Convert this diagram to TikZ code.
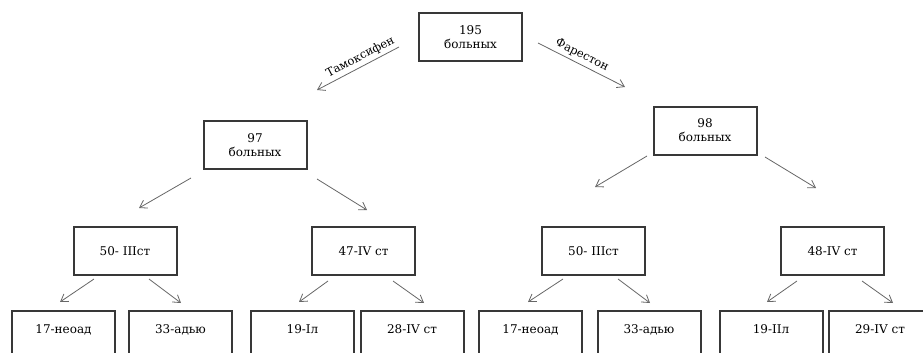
\documentclass[tikz,border=0pt]{standalone}
\usepackage{fontspec}
\setmainfont{DejaVu Serif}
\usetikzlibrary{arrows.meta}
\definecolor{boxline}{HTML}{383838}
\definecolor{arrowline}{HTML}{666666}

\begin{document}
\begin{tikzpicture}[x=1pt,y=-1pt,
  group/.style={draw=boxline,line width=2pt,minimum width=103pt,minimum height=48pt,
    align=center,font=\fontsize{12}{14}\selectfont},
  leaf/.style={draw=boxline,line width=2pt,minimum width=103pt,anchor=north,
    inner ysep=0pt,text height=22pt,text depth=26pt,font=\fontsize{12}{14}\selectfont},
  arr/.style={draw=arrowline,line width=0.8pt,-{Straight Barb[length=7pt,width=9pt]}},
  drug/.style={font=\fontsize{11.5}{13}\selectfont,sloped,above,inner sep=3pt}]
\useasboundingbox (0,0) rectangle (923,353);

% groups
\node[group] (all) at (470.5,37) {195\\больных};
\node[group] (tam) at (255,145) {97\\больных};
\node[group] (far) at (705,130.5) {98\\больных};

\node[group] (tamIII) at (125,251) {50- IIIст};
\node[group] (tamIV) at (363.5,251) {47-IV ст};
\node[group] (farIII) at (593.5,251) {50- IIIст};
\node[group] (farIV) at (832.5,251) {48-IV ст};

% last row
\node[leaf] (tamIIIa) at (63.5,310) {17-неоад};
\node[leaf] (tamIIIb) at (180.5,310) {33-адью};
\node[leaf] (tamIVa) at (302.5,310) {19-Iл};
\node[leaf] (tamIVb) at (412,310) {28-IV ст};
\node[leaf] (farIIIa) at (530.5,310) {17-неоад};
\node[leaf] (farIIIb) at (649,310) {33-адью};
\node[leaf] (farIVa) at (771,310) {19-IIл};
\node[leaf] (farIVb) at (880,310) {29-IV ст};

% arrow ends
\foreach \n/\p in {all-l/{399,47}, all-L/{317,90}, all-r/{538,43}, all-R/{625,87},
    tam-l/{191,178}, tam-L/{139,208}, tam-r/{317,179}, tam-R/{367,210},
    far-l/{647,156}, far-L/{595,187}, far-r/{765,157}, far-R/{816,188},
    tamIII-l/{94,279}, tamIII-L/{60,302}, tamIII-r/{149,279}, tamIII-R/{181,303},
    tamIV-l/{328,281}, tamIV-L/{299,302}, tamIV-r/{393,281}, tamIV-R/{424,303},
    farIII-l/{563,279}, farIII-L/{528,302}, farIII-r/{618,279}, farIII-R/{650,303},
    farIV-l/{797,281}, farIV-L/{767,302}, farIV-r/{862,281}, farIV-R/{893,303}}
  {\coordinate (\n) at (\p);}
\draw[arr] (all-l) -- node[drug,pos=0.42] {Тамоксифен} (all-L);
\draw[arr] (all-r) -- node[drug,pos=0.46] {Фарестон} (all-R);
\foreach \g in {tam,far,tamIII,tamIV,farIII,farIV}{
  \draw[arr] (\g-l) -- (\g-L);
  \draw[arr] (\g-r) -- (\g-R);
}
\end{tikzpicture}
\end{document}
